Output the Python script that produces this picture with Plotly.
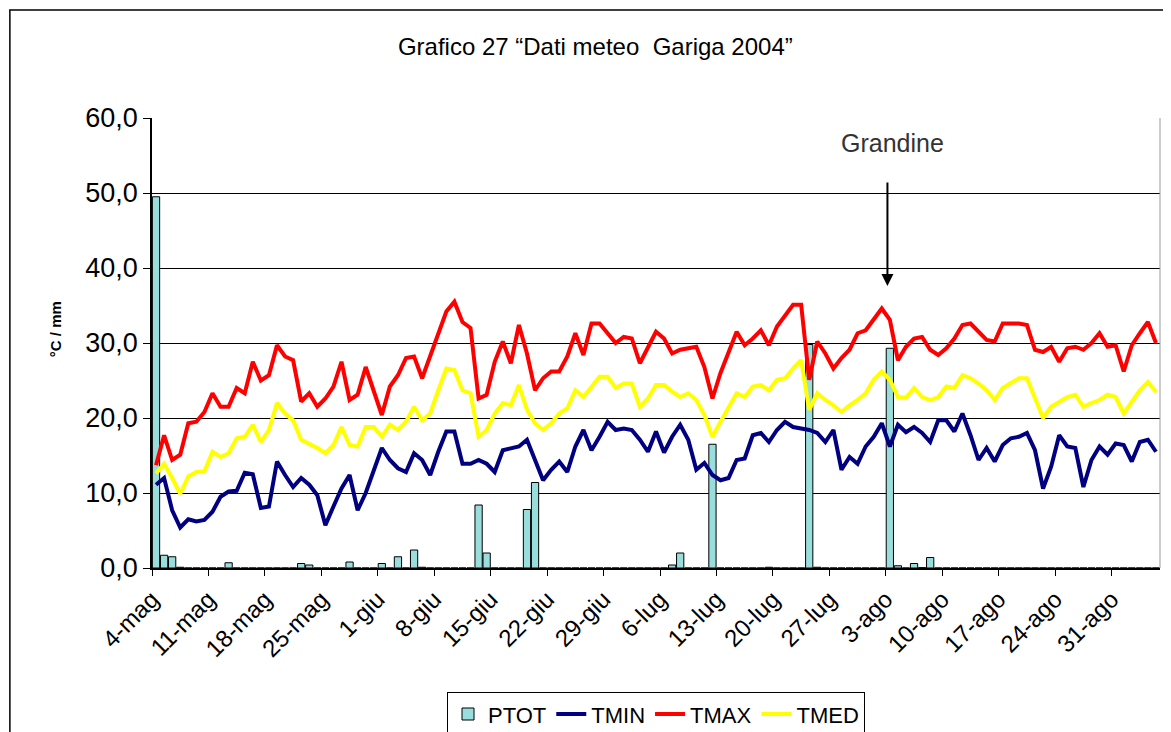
import plotly.graph_objects as go

# giorni dal 4 maggio al 5 settembre 2004
giorni = list(range(125))

tick_labels = ["4-mag", "11-mag", "18-mag", "25-mag", "1-giu", "8-giu", "15-giu",
               "22-giu", "29-giu", "6-lug", "13-lug", "20-lug", "27-lug", "3-ago",
               "10-ago", "17-ago", "24-ago", "31-ago"]

tmax = [13.7, 17.7, 14.4, 15.1, 19.3, 19.5, 20.8, 23.3, 21.5, 21.5,
        24.0, 23.3, 27.5, 25.0, 25.7, 29.7, 28.2, 27.7, 22.2, 23.3,
        21.5, 22.6, 24.2, 27.5, 22.4, 23.1, 26.8, 23.7, 20.4, 24.2,
        25.7, 28.0, 28.2, 25.3, 28.2, 31.3, 34.2, 35.5, 32.8, 32.0,
        22.6, 23.1, 27.5, 30.2, 27.3, 32.4, 28.6, 23.7, 25.3, 26.2,
        26.2, 28.2, 31.3, 28.4, 32.6, 32.6, 31.3, 30.0, 30.8, 30.6,
        27.3, 29.5, 31.5, 30.6, 28.6, 29.1, 29.3, 29.5, 26.8, 22.6,
        26.0, 28.8, 31.5, 29.7, 30.6, 31.7, 29.7, 32.2, 33.7, 35.1,
        35.1, 25.1, 30.2, 28.6, 26.6, 28.0, 29.1, 31.3, 31.7, 33.1,
        34.6, 33.1, 27.7, 29.5, 30.6, 30.8, 29.1, 28.4, 29.3, 30.6,
        32.4, 32.6, 31.5, 30.4, 30.2, 32.6, 32.6, 32.6, 32.4, 29.1,
        28.8, 29.5, 27.5, 29.3, 29.5, 29.1, 30.0, 31.3, 29.5, 29.7,
        26.2, 29.7, 31.3, 32.8, 30.0]

tmed = [12.6, 13.9, 12.0, 9.9, 12.2, 12.8, 12.9, 15.5, 14.8, 15.3,
        17.3, 17.5, 19.1, 16.8, 18.4, 22.0, 20.6, 19.7, 17.1, 16.6,
        16.0, 15.3, 16.4, 18.8, 16.4, 16.2, 18.8, 18.8, 17.5, 19.1,
        18.4, 19.5, 21.5, 19.7, 20.6, 23.7, 26.6, 26.4, 23.7, 23.3,
        17.5, 18.4, 20.6, 22.0, 21.7, 24.4, 21.1, 19.3, 18.4, 19.3,
        20.6, 21.3, 23.7, 22.8, 24.2, 25.5, 25.5, 24.0, 24.6, 24.6,
        21.5, 22.6, 24.4, 24.4, 23.5, 22.8, 23.3, 22.4, 20.4, 17.5,
        19.5, 21.3, 23.3, 22.8, 24.2, 24.4, 23.7, 25.1, 25.3, 26.6,
        27.7, 21.1, 23.3, 22.4, 21.7, 20.8, 21.7, 22.4, 23.3, 25.1,
        26.2, 25.1, 22.8, 22.7, 24.0, 22.8, 22.4, 22.8, 24.2, 24.0,
        25.7, 25.3, 24.6, 23.7, 22.4, 24.0, 24.6, 25.3, 25.3, 22.6,
        20.0, 21.5, 22.2, 22.8, 23.1, 21.5, 22.0, 22.4, 23.1, 22.8,
        20.6, 22.2, 23.7, 24.8, 23.5]

tmin = [11.1, 12.0, 7.7, 5.4, 6.5, 6.2, 6.4, 7.5, 9.5, 10.2,
        10.3, 12.7, 12.5, 8.0, 8.2, 14.2, 12.4, 10.8, 12.0, 11.1,
        9.7, 5.7, 8.2, 10.6, 12.4, 7.7, 10.0, 13.1, 16.0, 14.4,
        13.3, 12.8, 15.3, 14.4, 12.4, 15.5, 18.2, 18.2, 13.9, 13.9,
        14.4, 13.9, 12.8, 15.7, 16.0, 16.2, 17.1, 14.4, 11.7, 13.1,
        14.2, 12.8, 16.2, 18.4, 15.7, 17.5, 19.5, 18.4, 18.6, 18.4,
        17.1, 15.5, 18.2, 15.4, 17.5, 19.1, 17.1, 13.1, 14.0, 12.4,
        11.7, 12.0, 14.4, 14.6, 17.7, 18.0, 16.8, 18.4, 19.5, 18.8,
        18.6, 18.4, 18.0, 16.8, 18.4, 13.1, 14.8, 13.9, 16.2, 17.5,
        19.3, 16.2, 19.1, 18.1, 18.8, 18.0, 16.8, 19.7, 19.7, 18.2,
        20.6, 17.7, 14.4, 16.0, 14.2, 16.4, 17.3, 17.5, 18.0, 15.7,
        10.6, 13.5, 17.7, 16.2, 16.0, 10.8, 14.4, 16.2, 15.1, 16.6,
        16.4, 14.2, 16.8, 17.1, 15.5]

# precipitazioni (mm), giorni non elencati = 0
pioggia = {0: 49.5, 1: 1.7, 2: 1.5, 3: 0.1, 9: 0.7, 18: 0.6, 19: 0.4, 24: 0.8,
           28: 0.6, 30: 1.5, 32: 2.4, 33: 0.1, 40: 8.4, 41: 2.0, 46: 7.8,
           47: 11.4, 64: 0.4, 65: 2.0, 69: 16.5, 76: 0.1, 81: 29.8, 82: 0.1,
           91: 29.3, 92: 0.3, 94: 0.6, 95: 0.05, 96: 1.4}
ptot = [pioggia.get(g, 0) for g in giorni]

y_ticks = [0, 10, 20, 30, 40, 50, 60]
y_labels = [f"{v:.1f}".replace(".", ",") for v in y_ticks]

font = "Liberation Sans, Arial, sans-serif"

fig = go.Figure()
fig.add_trace(go.Bar(x=giorni, y=ptot, name="PTOT",
                     marker=dict(color="#99DDDD", line=dict(color="black", width=1))))
fig.add_trace(go.Scatter(x=giorni, y=tmin, name="TMIN", mode="lines",
                         line=dict(color="#000080", width=4)))
fig.add_trace(go.Scatter(x=giorni, y=tmax, name="TMAX", mode="lines",
                         line=dict(color="#FF0000", width=4)))
fig.add_trace(go.Scatter(x=giorni, y=tmed, name="TMED", mode="lines",
                         line=dict(color="#FFFF00", width=4)))

# freccia grandine
fig.add_annotation(x=90.7, y=37.6, ax=90.7, ay=51.6, axref="x", ayref="y",
                   text="", showarrow=True, arrowhead=2, arrowsize=1.2,
                   arrowwidth=2, arrowcolor="black")
fig.add_annotation(x=91.3, y=56.7, text="Grandine", showarrow=False,
                   font=dict(size=25, color="#333333", family=font))

# titolo asse y
fig.add_annotation(xref="paper", yref="paper", x=-0.106, y=0.53,
                   text="<b>°C / mm</b>", textangle=-90, showarrow=False,
                   font=dict(size=15, color="black", family=font))

# cornice esterna del grafico
fig.add_shape(type="rect", xref="paper", yref="paper",
              x0=-0.141, y0=-0.4, x1=1.02, y1=1.24,
              line=dict(color="black", width=1.5))
fig.add_shape(type="line", xref="paper", yref="paper", x0=1, x1=1, y0=0, y1=1,
              line=dict(color="#999999", width=1))

fig.update_layout(
    width=1163, height=724,
    paper_bgcolor="white", plot_bgcolor="white",
    margin=dict(l=144, r=11, t=110, b=164, autoexpand=False),
    font=dict(family=font, color="black"),
    title=dict(text="Grafico 27 “Dati meteo  Gariga 2004”", x=0.505, xanchor="center",
               y=0.946, yanchor="middle", font=dict(size=24, color="black")),
    bargap=0.1,
    showlegend=True,
    legend=dict(orientation="h", x=0.5, xanchor="center", y=-0.276, yanchor="top",
                bordercolor="black", borderwidth=1, font=dict(size=22),
                itemwidth=30, tracegroupgap=0),
    xaxis=dict(range=[-0.5, 124.5], tickmode="array",
               tickvals=[-0.5 + 7 * k for k in range(len(tick_labels))],
               ticktext=tick_labels, tickangle=-45, tickfont=dict(size=24),
               ticks="outside", ticklen=6, tickcolor="black",
               showline=True, linecolor="black", linewidth=1.5,
               showgrid=False, zeroline=False),
    yaxis=dict(range=[0, 60], tickmode="array", tickvals=y_ticks, ticktext=y_labels,
               tickfont=dict(size=27), ticks="outside", ticklen=7, tickcolor="black",
               showline=True, linecolor="black", linewidth=1.5,
               showgrid=True, gridcolor="black", gridwidth=1, zeroline=False),
)

fig.write_html("out.html")
